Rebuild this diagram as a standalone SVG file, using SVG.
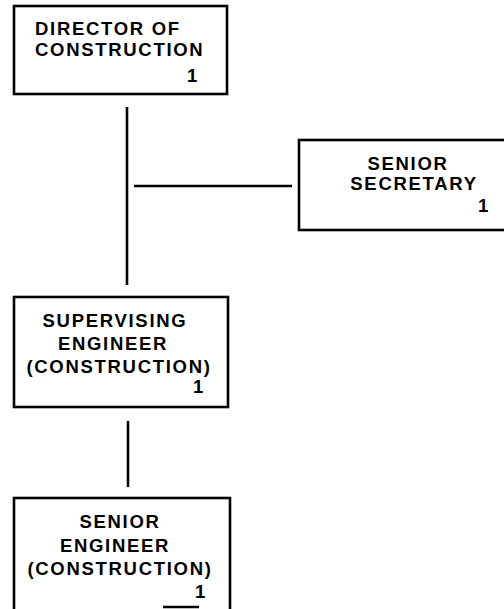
<svg xmlns="http://www.w3.org/2000/svg" width="504" height="609" viewBox="0 0 504 609">
<style>
.box{fill:#fff;stroke:#000;stroke-width:2.6}
.t{font-family:"Liberation Sans",Arial,sans-serif;font-weight:bold;font-size:18.5px;letter-spacing:1.7px;fill:#000}
.m{text-anchor:middle}
.e{text-anchor:end}
.c{stroke:#000;stroke-width:2.6;fill:none}
</style>
<rect width="504" height="609" fill="#fff"/>
<g id="connectors">
<line class="c" x1="127" y1="107" x2="127" y2="285"/>
<line class="c" x1="134" y1="186" x2="292" y2="186"/>
<line class="c" x1="128" y1="421" x2="128" y2="487"/>
</g>
<g id="director">
<rect class="box" x="14" y="6" width="213" height="88"/>
<text class="t" x="35" y="35">DIRECTOR OF</text>
<text class="t" x="35" y="56">CONSTRUCTION</text>
<text class="t e" x="199" y="82">1</text>
</g>
<g id="secretary">
<rect class="box" x="299" y="140" width="210" height="90"/>
<text class="t m" x="408" y="170">SENIOR</text>
<text class="t m" x="414" y="190">SECRETARY</text>
<text class="t e" x="490" y="212">1</text>
</g>
<g id="supervising">
<rect class="box" x="14" y="297" width="214" height="110"/>
<text class="t m" x="115" y="327">SUPERVISING</text>
<text class="t m" x="113" y="350">ENGINEER</text>
<text class="t m" x="119" y="373">(CONSTRUCTION)</text>
<text class="t e" x="205" y="393">1</text>
</g>
<g id="senior-engineer">
<rect class="box" x="14" y="498" width="216" height="120"/>
<text class="t m" x="120" y="528">SENIOR</text>
<text class="t m" x="115" y="552">ENGINEER</text>
<text class="t m" x="120" y="575">(CONSTRUCTION)</text>
<text class="t e" x="207" y="598">1</text>
<line class="c" x1="163" y1="607" x2="199" y2="607"/>
</g>
</svg>
